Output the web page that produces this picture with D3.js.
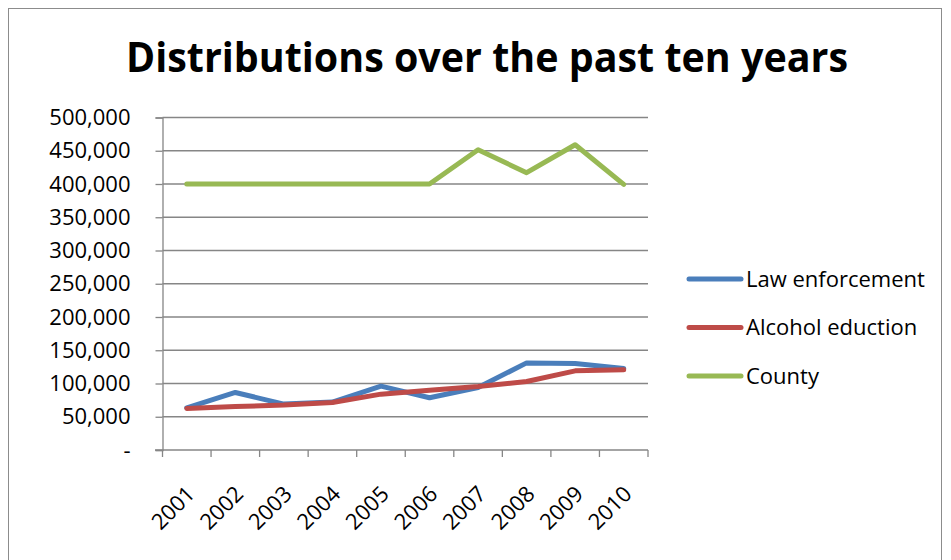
<!DOCTYPE html>
<html><head><meta charset="utf-8">
<script src="https://cdn.jsdelivr.net/npm/d3@7/dist/d3.min.js"></script>
<style>body{margin:0;background:#fff}svg{display:block}</style>
</head><body>
<script>
const years = ["2001","2002","2003","2004","2005","2006","2007","2008","2009","2010"];
const lawEnforcement = [63500, 86500, 69000, 72000, 96000, 78500, 94000, 131000, 130000, 122500];
const alcoholEducation = [62500, 65500, 67500, 71500, 84000, 90000, 95500, 103000, 119000, 120500];
const county = [400000, 400000, 400000, 400000, 400000, 400000, 451500, 417000, 459000, 399500];
const seriesNames = ["Law enforcement", "Alcohol eduction", "County"];
const seriesColors = ["#4a7ebb", "#be4b48", "#98b954"];
const yTicks = [0,50000,100000,150000,200000,250000,300000,350000,400000,450000,500000];
const title = "Distributions over the past ten years";

const W = 951, H = 560;
const svg = d3.select("body").append("svg").attr("width", W).attr("height", H);
const font = "'Open Sans', Lato, sans-serif";

svg.append("rect").attr("x", 8.5).attr("y", 8.5).attr("width", 933).attr("height", 560)
  .attr("fill", "#fff").attr("stroke", "#8c8c8c").attr("stroke-width", 1);

svg.append("text").attr("x", 487).attr("y", 72).attr("text-anchor", "middle")
  .attr("font-family", font).attr("font-weight", "bold").attr("font-size", 41)
  .attr("textLength", 722).attr("lengthAdjust", "spacingAndGlyphs")
  .attr("fill", "#000").text(title);

const x = d3.scaleBand().domain(years).range([162.5, 648]);
const y = d3.scaleLinear().domain([0, 500000]).range([450, 117.5]);

const grid = svg.append("g");
grid.selectAll("line").data(yTicks.filter(d => d > 0)).join("line")
  .attr("x1", 162.5).attr("x2", 648).attr("y1", d => y(d)).attr("y2", d => y(d))
  .attr("stroke", "#868686").attr("stroke-width", 1.3);

const yAxis = d3.axisLeft(y).tickValues(yTicks).tickSize(7).tickPadding(25)
  .tickFormat(d => d === 0 ? "-" : d3.format(",")(d));
const gy = svg.append("g").attr("transform", "translate(162.5,0)").call(yAxis);
gy.select(".domain").attr("stroke", "#868686").attr("stroke-width", 1.3);
gy.selectAll(".tick line").attr("stroke", "#868686").attr("stroke-width", 1.3);
gy.selectAll(".tick text").attr("font-family", font).attr("font-size", 22).attr("fill", "#000");

const xTickPos = years.map(d => x(d)).concat([648]);
const gx = svg.append("g");
gx.append("line").attr("x1", 155).attr("x2", 648).attr("y1", 450).attr("y2", 450)
  .attr("stroke", "#868686").attr("stroke-width", 1.3);
gx.selectAll("line.t").data(xTickPos).join("line").attr("class", "t")
  .attr("x1", d => d).attr("x2", d => d).attr("y1", 450).attr("y2", 457)
  .attr("stroke", "#868686").attr("stroke-width", 1.3);
gx.selectAll("text").data(years).join("text")
  .attr("transform", d => `translate(${x(d) + x.bandwidth()/2 + 4},${490}) rotate(-45)`)
  .attr("text-anchor", "end").attr("dy", "0.35em")
  .attr("font-family", font).attr("font-size", 22).attr("fill", "#000").text(d => d);

const data = [lawEnforcement, alcoholEducation, county];
const line = d3.line().x((d, i) => x(years[i]) + x.bandwidth()/2).y(d => y(d));
svg.append("g").selectAll("path").data(data).join("path")
  .attr("d", line).attr("fill", "none")
  .attr("stroke", (d, i) => seriesColors[i]).attr("stroke-width", 5)
  .attr("stroke-linejoin", "round").attr("stroke-linecap", "round");

const lg = svg.append("g");
seriesNames.forEach((n, i) => {
  const yy = 279 + i * 48.5;
  lg.append("line").attr("x1", 689).attr("x2", 741).attr("y1", yy).attr("y2", yy)
    .attr("stroke", seriesColors[i]).attr("stroke-width", 5).attr("stroke-linecap", "round");
  lg.append("text").attr("x", 746).attr("y", yy).attr("dy", "0.35em")
    .attr("font-family", font).attr("font-size", 22).attr("fill", "#000").text(n);
});
</script>
</body></html>
